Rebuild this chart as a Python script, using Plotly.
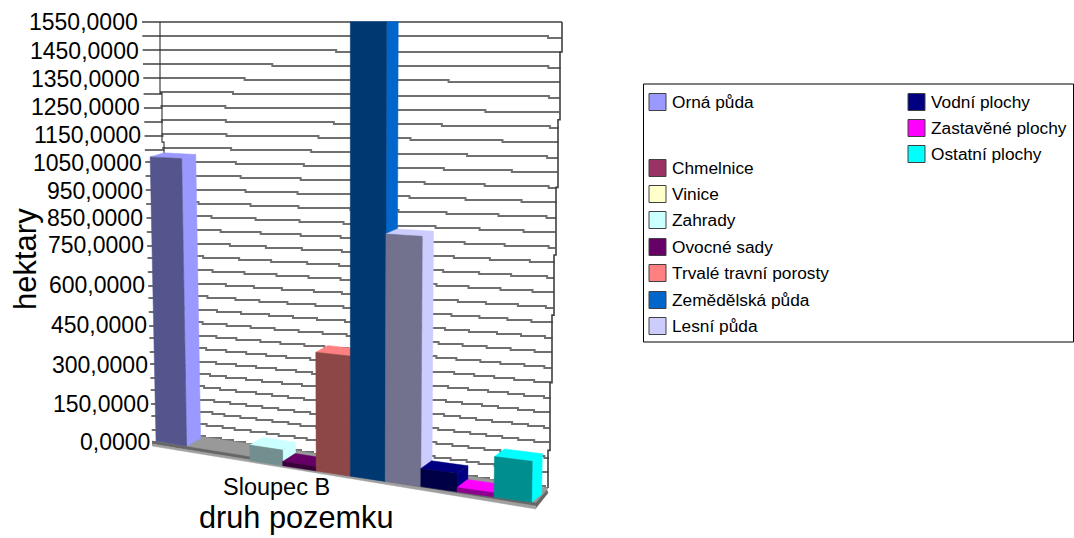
"""Excel-style 3D column chart: druh pozemku / hektary, drawn with a small oblique projection."""
import numpy as np
import plotly.graph_objects as go

FONT = "Liberation Sans, Arial, sans-serif"
W, H = 1074, 538

CATEGORIES = ["Orná půda", "Chmelnice", "Vinice", "Zahrady", "Ovocné sady", "Trvalé travní porosty",
              "Zemědělská půda", "Lesní půda", "Vodní plochy", "Zastavěné plochy", "Ostatní plochy"]
HECTARES = [1051, 0, 0, 55, 15, 410, 1550, 835, 60, 14, 132]
COLORS = ["#9999FF", "#993366", "#FFFFCC", "#CCFFFF", "#660066", "#FF8080",
          "#0066CC", "#CCCCFF", "#000080", "#FF00FF", "#00FFFF"]
TICKS = [0, 150, 300, 450, 600, 750, 850, 950, 1050, 1150, 1250, 1350, 1450, 1550]
GRID_STEP = 50
VMAX = 1550

# y axis stays in hectares, 0 sits 442 px down and 1550 at 22 px
SCALE = 420 / VMAX


def to_y(px):
    return (442 - np.asarray(px, dtype=float)) / SCALE


def darker(hex_color, k=0.56):
    r, g, b = [int(hex_color[i:i + 2], 16) for i in (1, 3, 5)]
    return f"rgb({int(r * k)},{int(g * k)},{int(b * k)})"


# --- projection of the front plane of the columns
def slot_x(s, v):
    return 156 + 30.27 * s + 0.353 * s ** 2 + 0.00093 * (s - 6) * v


def slot_y(s, v):
    base = 445 + 5.2 * s - (4 if s <= 1 else 0)
    return base - v * (base - 22) / VMAX


def depth(s, v):
    return 14 - 0.4 * s, 8 * (1 - min(v, VMAX) / VMAX) ** 0.6


# --- back wall
def tick_px(v):
    return 442 - 0.2547 * v - 1.052e-5 * v ** 2


def grid_line(v):
    x_tick = 152 - 10 * v / VMAX
    x_corner = 160 + 37 * (1 - v / VMAX) ** 2
    x_right = 548 + 14 * v / VMAX
    y_corner = tick_px(v) - 6 * (1 - v / VMAX)
    y_right = 488 - 466 * v / VMAX
    xs = np.concatenate([[x_tick], np.arange(x_corner, x_right, 4), [x_right]])
    ys = np.interp(xs, [x_tick, x_corner, x_right], [tick_px(v), y_corner, y_right])
    # the source picture is a coarse bitmap, lines run in small stairs
    return xs, np.round(ys / 2) * 2


def polygon(xs, ys, color):
    return go.Scatter(x=xs, y=to_y(ys), mode="lines", fill="toself", fillcolor=color,
                      line=dict(color=color, width=0.5), hoverinfo="skip")


fig = go.Figure()

# grid
gx, gy = [], []
for v in range(0, VMAX + 1, GRID_STEP):
    xs, ys = grid_line(v)
    gx += list(xs) + [None]
    gy += list(to_y(ys)) + [None]
fig.add_trace(go.Scatter(x=gx, y=gy, mode="lines", line=dict(color="#707070", width=2, shape="hv"),
                         hoverinfo="skip"))

# wall edges
wall_v = np.arange(0, VMAX + 1, 25)
right_x = np.round((548 + 14 * wall_v / VMAX) / 2) * 2
fig.add_trace(go.Scatter(x=right_x, y=to_y(488 - 466 * wall_v / VMAX), mode="lines",
                         line=dict(color="#404040", width=1.6, shape="vh"), hoverinfo="skip"))
left_x = np.round((160 + 37 * (1 - wall_v / VMAX) ** 2) / 2) * 2
fig.add_trace(go.Scatter(x=left_x, y=to_y(tick_px(wall_v)), mode="lines",
                         line=dict(color="#303030", width=1.1, shape="vh"), hoverinfo="skip"))

# floor
fig.add_trace(polygon([153, 197, 548, 536, 153], [442, 436, 488, 505, 442], "#999999"))
fig.add_trace(polygon([152, 536, 547, 548, 536, 152], [441, 503, 490, 493, 508, 444], "#666666"))
fig.add_trace(polygon([152, 536, 536, 152], [444, 506, 509, 446], "#a0a0a0"))

# columns, back to front in slot order
for s, (v, color) in enumerate(zip(HECTARES, COLORS)):
    if v <= 0:
        continue
    x0b, x1b = slot_x(s, 0), slot_x(s + 1, 0)
    x0t, x1t = slot_x(s, v), slot_x(s + 1, v)
    y0b, y1b = slot_y(s, 0), slot_y(s + 1, 0)
    y0t, y1t = slot_y(s, v), slot_y(s + 1, v)
    dxb, dyb = depth(s, 0)
    dxt, dyt = depth(s, v)
    fig.add_trace(polygon([x1t, x1t + dxt, x1b + dxb, x1b, x1t],
                          [y1t, y1t - dyt, y1b - dyb, y1b, y1t], color))
    fig.add_trace(polygon([x0t, x0t + dxt, x1t + dxt, x1t, x0t],
                          [y0t, y0t - dyt, y1t - dyt, y1t, y0t], color))
    fig.add_trace(polygon([x0t, x1t, x1b, x0b, x0t], [y0t, y1t, y1b, y0b, y0t], darker(color)))

# value labels along the tilted axis
for v in TICKS:
    fig.add_annotation(x=140 + 12 * (1 - v / VMAX), y=to_y(tick_px(v)), text=f"{v},0000", showarrow=False,
                       xanchor="right", yanchor="middle", font=dict(family=FONT, size=23, color="#000000"))

fig.add_annotation(x=25, y=to_y(259), text="hektary", textangle=-90, showarrow=False,
                   font=dict(family=FONT, size=31, color="#000000"))
fig.add_annotation(x=276, y=to_y(487), text="Sloupec B", showarrow=False,
                   font=dict(family=FONT, size=23.5, color="#000000"))
fig.add_annotation(x=296, y=to_y(517), text="druh pozemku", showarrow=False,
                   font=dict(family=FONT, size=30.7, color="#000000"))

# legend box, Excel leaves a gap after the first row
fig.add_shape(type="rect", xref="paper", yref="paper", x0=643.5 / W, x1=1073.5 / W,
              y0=1 - 342 / H, y1=1 - 84 / H, line=dict(color="#000000", width=1), fillcolor="#ffffff", layer="below")
rows = [102, 168, 194, 220, 247, 273, 300, 326, 102, 128, 154]
cols = [649] * 8 + [908] * 3
for name, color, ry, cx in zip(CATEGORIES, COLORS, rows, cols):
    fig.add_shape(type="rect", xref="paper", yref="paper", x0=cx / W, x1=(cx + 17) / W,
                  y0=1 - (ry + 8.5) / H, y1=1 - (ry - 8.5) / H, fillcolor=color,
                  line=dict(color="#404040", width=1))
    fig.add_annotation(xref="paper", yref="paper", x=(cx + 20.5) / W, y=1 - ry / H, text=name, showarrow=False,
                       xanchor="left", yanchor="middle", font=dict(family=FONT, size=17.3, color="#000000"))

fig.update_layout(
    width=W, height=H,
    paper_bgcolor="#ffffff", plot_bgcolor="#ffffff",
    margin=dict(l=0, r=0, t=0, b=0),
    showlegend=False,
    xaxis=dict(visible=False, range=[0, W], fixedrange=True),
    yaxis=dict(visible=False, range=[(442 - H) / SCALE, 442 / SCALE], fixedrange=True),
)

fig.write_html("out.html", config={"displayModeBar": False},
               post_script="document.body.style.margin='0';")
